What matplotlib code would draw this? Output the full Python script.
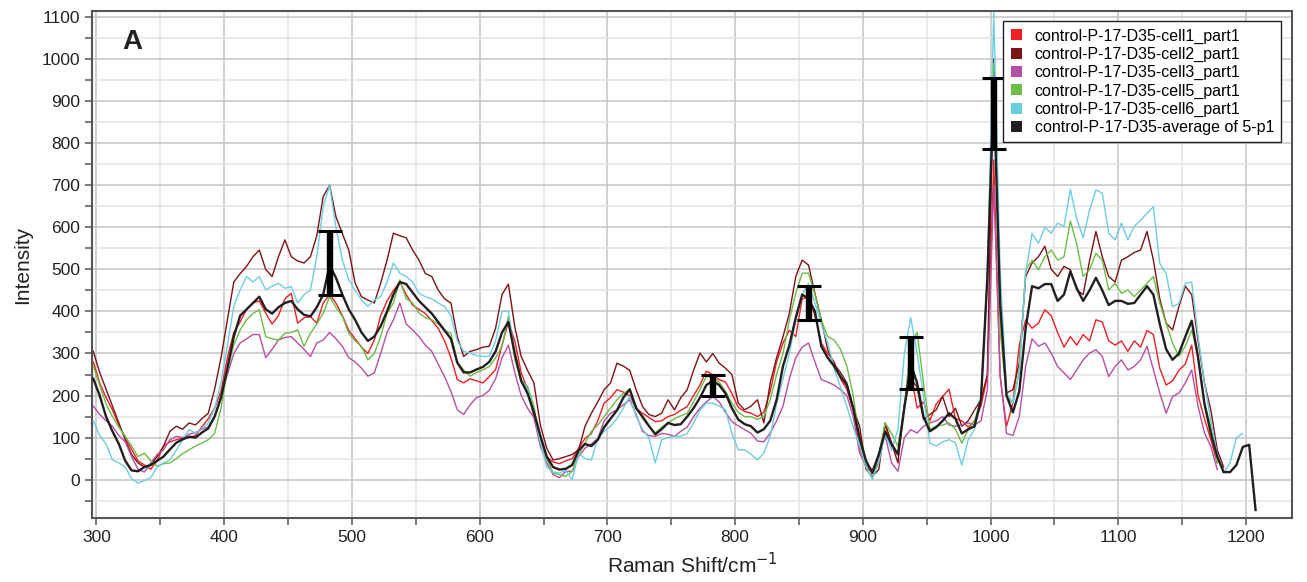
import numpy as np
import matplotlib
matplotlib.use("Agg")
import matplotlib.pyplot as plt
from matplotlib.patches import Patch
from matplotlib.ticker import MultipleLocator

plt.rcParams["font.family"] = ["Liberation Sans", "DejaVu Sans"]

# Raman shift grid (cm-1), every 5 cm-1 starting at 297.5
shift = np.arange(297.5, 1210, 5.0)

labels = [
    "control-P-17-D35-cell1_part1",
    "control-P-17-D35-cell2_part1",
    "control-P-17-D35-cell3_part1",
    "control-P-17-D35-cell5_part1",
    "control-P-17-D35-cell6_part1",
    "control-P-17-D35-average of 5-p1",
]
colors = ["#ed2024", "#7d1315", "#b64fa3", "#6cbd45", "#6dcde0", "#231f20"]

cell1 = [
    280, 230, 195, 166, 130, 100, 72, 45, 35, 25,
    45, 80, 90, 95, 100, 100, 105, 125, 145, 170,
    210, 290, 350, 375, 405, 420, 425, 396, 370, 390,
    430, 443, 372, 385, 388, 372, 420, 440, 420, 390,
    355, 335, 315, 300, 332, 390, 425, 450, 470, 440,
    415, 405, 395, 378, 360, 330, 290, 238, 230, 240,
    235, 230, 245, 262, 320, 375, 330, 255, 215, 150,
    90, 55, 42, 38, 45, 50, 75, 98, 110, 140,
    182, 195, 214, 208, 200, 170, 158, 148, 138, 140,
    150, 155, 165, 174, 200, 225, 258, 250, 238, 232,
    205, 172, 162, 158, 150, 160, 210, 280, 325, 355,
    340, 430, 435, 390, 325, 300, 280, 240, 215, 165,
    75, 30, 18, 40, 130, 80, 60, 175, 255, 170,
    185, 140, 180, 198, 215, 145, 140, 125, 140, 175,
    245, 760, 245, 127, 182, 320, 380, 360, 372, 404,
    390, 350, 315, 340, 320, 345, 330, 380, 375, 330,
    320, 330, 305, 330, 315, 355, 345, 265, 225, 235,
    260, 275, 320, 200, 145, 95, 40,
]
cell2 = [
    305, 255, 215, 175, 135, 95, 60, 40, 30, 35,
    55, 80, 115, 127, 120, 135, 130, 145, 158, 215,
    290, 380, 470, 490, 507, 530, 546, 500, 483, 530,
    570, 530, 520, 515, 530, 580, 673, 700, 625, 585,
    546, 467, 435, 427, 420, 467, 522, 586, 580, 575,
    546, 522, 490, 483, 451, 430, 420, 340, 293, 305,
    309, 315, 317, 360, 440, 465, 364, 293, 260, 230,
    130, 75, 47, 50, 55, 60, 71, 127, 158, 185,
    214, 230, 277, 270, 260, 214, 174, 155, 150, 158,
    190, 166, 195, 214, 260, 301, 280, 300, 277, 265,
    250, 182, 166, 175, 190, 135, 230, 290, 340, 396,
    483, 522, 510, 443, 380, 309, 275, 255, 230, 170,
    127, 25, 8, 24, 135, 87, 40, 180, 240, 220,
    143, 155, 166, 198, 150, 170, 127, 140, 166, 190,
    250, 1000, 404, 206, 214, 277, 483, 515, 530, 555,
    500, 483, 507, 499, 451, 440, 520, 590, 530, 483,
    470, 522, 530, 540, 546, 590, 522, 430, 372, 356,
    412, 460, 440, 330, 230, 165, 71, 30,
]
cell3 = [
    175, 155, 140, 127, 105, 90, 55, 25, 18, 40,
    60, 71, 95, 103, 100, 108, 112, 120, 125, 150,
    198, 250, 300, 325, 335, 345, 345, 290, 310, 332,
    338, 340, 325, 310, 293, 325, 332, 350, 335, 317,
    290, 280, 265, 246, 254, 300, 350, 380, 420, 370,
    356, 340, 320, 305, 275, 245, 210, 166, 155, 178,
    195, 200, 212, 240, 290, 320, 255, 200, 170, 148,
    80, 40, 12, 5, 20, 20, 55, 75, 85, 98,
    140, 158, 166, 178, 190, 155, 115, 105, 103, 110,
    108, 103, 115, 125, 150, 170, 185, 198, 185, 160,
    138, 128, 119, 110, 92, 90, 111, 140, 175, 240,
    290, 315, 325, 280, 238, 232, 225, 214, 200, 150,
    63, 35, 24, 60, 105, 40, 20, 100, 119, 111,
    127, 135, 140, 150, 130, 127, 130, 135, 130, 140,
    214, 700, 250, 110, 105, 150, 270, 335, 317, 325,
    301, 269, 254, 238, 261, 285, 301, 309, 293, 245,
    269, 285, 261, 269, 285, 317, 261, 206, 158, 198,
    206, 230, 261, 174, 111, 79, 24,
]
cell5 = [
    270, 225, 180, 150, 125, 103, 80, 55, 63, 45,
    32, 38, 40, 50, 62, 71, 80, 87, 95, 110,
    170, 260, 320, 356, 380, 395, 404, 340, 335, 332,
    348, 350, 356, 317, 348, 370, 396, 435, 410, 388,
    348, 330, 317, 285, 300, 340, 396, 420, 475, 430,
    420, 396, 385, 380, 370, 355, 348, 280, 261, 246,
    255, 261, 269, 290, 317, 388, 285, 235, 222, 174,
    90, 50, 16, 12, 8, 20, 60, 87, 115, 130,
    150, 170, 190, 205, 214, 174, 145, 127, 111, 125,
    135, 145, 152, 158, 185, 215, 245, 245, 232, 210,
    182, 160, 150, 150, 143, 150, 190, 250, 300, 380,
    443, 491, 491, 440, 380, 340, 332, 310, 270, 200,
    90, 30, 2, 60, 135, 110, 79, 174, 320, 350,
    230, 120, 127, 130, 135, 120, 87, 119, 140, 190,
    483, 990, 356, 198, 182, 261, 499, 522, 499, 530,
    546, 522, 530, 615, 560, 483, 499, 538, 522, 451,
    467, 443, 451, 435, 451, 467, 483, 420, 372, 325,
    293, 317, 356, 293, 182, 127, 40,
]
cell6 = [
    140, 105, 85, 47, 40, 30, 2, -8, -2, 5,
    30, 40, 47, 70, 95, 119, 111, 120, 135, 170,
    230, 320, 412, 451, 483, 470, 483, 451, 460, 467,
    455, 459, 420, 440, 451, 530, 649, 700, 600, 522,
    475, 450, 427, 412, 427, 435, 470, 515, 491, 483,
    470, 443, 435, 430, 420, 412, 390, 330, 305, 301,
    295, 293, 293, 330, 400, 400, 300, 240, 214, 160,
    90, 30, 18, 16, 22, 0, 63, 50, 47, 100,
    115, 127, 145, 170, 198, 150, 120, 100, 40, 95,
    100, 103, 103, 110, 135, 165, 182, 182, 175, 166,
    110, 71, 71, 60, 47, 63, 103, 180, 240, 300,
    380, 440, 467, 420, 370, 325, 265, 220, 174, 125,
    80, 32, 2, 40, 110, 70, 120, 300, 385, 300,
    200, 87, 80, 90, 95, 88, 35, 95, 120, 198,
    483, 1110, 500, 206, 182, 254, 491, 586, 562, 600,
    586, 610, 602, 690, 620, 575, 640, 689, 681, 586,
    570, 610, 570, 602, 617, 633, 649, 514, 490, 411,
    419, 467, 470, 340, 230, 140, 60, 16, 40, 100,
    110,
]
average = [
    240, 200, 150, 115, 85, 45, 22, 20, 30, 35,
    45, 55, 72, 88, 96, 102, 100, 112, 122, 150,
    195, 265, 340, 390, 405, 420, 435, 405, 395, 410,
    420, 425, 405, 392, 388, 410, 440, 510, 480, 440,
    405, 380, 350, 330, 340, 365, 400, 440, 470, 465,
    445, 425, 410, 395, 375, 355, 335, 278, 255, 255,
    262, 268, 280, 305, 350, 375, 300, 235, 205, 160,
    105, 55, 30, 24, 26, 35, 70, 85, 80, 95,
    125, 145, 165, 195, 215, 170, 150, 128, 108, 120,
    135, 130, 132, 150, 170, 195, 225, 235, 225, 205,
    170, 143, 132, 127, 112, 120, 140, 190, 270, 320,
    385, 440, 430, 400, 317, 290, 270, 245, 225, 170,
    100, 45, 16, 60, 115, 85, 60, 170, 275, 230,
    150, 115, 125, 140, 158, 145, 110, 120, 127, 190,
    480, 930, 420, 200, 160, 210, 360, 460, 455, 465,
    465, 425, 440, 495, 455, 425, 450, 480, 450, 415,
    425, 425, 418, 420, 440, 460, 440, 370, 310, 285,
    300, 340, 378, 290, 180, 110, 55, 18, 18, 35,
    78, 83, -72,
]
series = [cell1, cell2, cell3, cell5, cell6, average]

# error bars on the average (low / high)
err_x = [482.5, 782.5, 857.5, 937.5, 1002.5]
err_low = [440, 200, 380, 215, 785]
err_high = [590, 250, 460, 340, 955]

fig, ax = plt.subplots(figsize=(13.07, 5.82), dpi=100)
fig.subplots_adjust(left=0.0704, right=0.9885, top=0.981, bottom=0.110)

for vals, col, lab in zip(series, colors, labels):
    is_avg = lab.endswith("5-p1")
    ax.plot(shift[:len(vals)], vals, color=col, lw=1.7 if is_avg else 1.0,
            zorder=4 if is_avg else 3)

low = np.array(err_low, dtype=float)
high = np.array(err_high, dtype=float)
mid = (low + high) / 2
ax.errorbar(err_x, mid, yerr=(high - low) / 2, fmt="none", ecolor="black",
            elinewidth=4.6, capsize=8.5, capthick=2.2, zorder=5)

ax.set_xlim(296.5, 1236)
ax.set_ylim(-91, 1114)
ax.xaxis.set_major_locator(MultipleLocator(100))
ax.xaxis.set_minor_locator(MultipleLocator(50))
ax.yaxis.set_major_locator(MultipleLocator(100))
ax.yaxis.set_minor_locator(MultipleLocator(50))
ax.grid(which="major", color="#c4c4c4", lw=1.1, zorder=0)
ax.grid(which="minor", color="#e4e4e4", lw=1.1, zorder=0)
ax.set_axisbelow(True)

for sp in ax.spines.values():
    sp.set_color("#555555")
    sp.set_linewidth(1.5)
ax.tick_params(which="both", direction="out", length=5, width=1.1,
               color="#555555", labelsize=12.5, labelcolor="#222222")

ax.set_xlabel("Raman Shift/cm$^{-1}$", fontsize=15, color="#222222", labelpad=5)
ax.set_ylabel("Intensity", fontsize=15, color="#222222", labelpad=7)

ax.text(0.025, 0.965, "A", transform=ax.transAxes, fontsize=20,
        fontweight="bold", va="top", ha="left", color="#222222")

handles = [Patch(facecolor=c, edgecolor="none") for c in colors]
leg = ax.legend(handles, labels, loc="upper right", bbox_to_anchor=(0.991, 0.980),
                borderaxespad=0, fontsize=11.5, frameon=True, fancybox=False,
                framealpha=1, edgecolor="#222222", handlelength=0.7,
                handleheight=0.7, handletextpad=0.8, labelspacing=0.2,
                borderpad=0.45)
leg.get_frame().set_linewidth(1.0)
leg.set_zorder(10)

fig.savefig("out.png", dpi=100)
